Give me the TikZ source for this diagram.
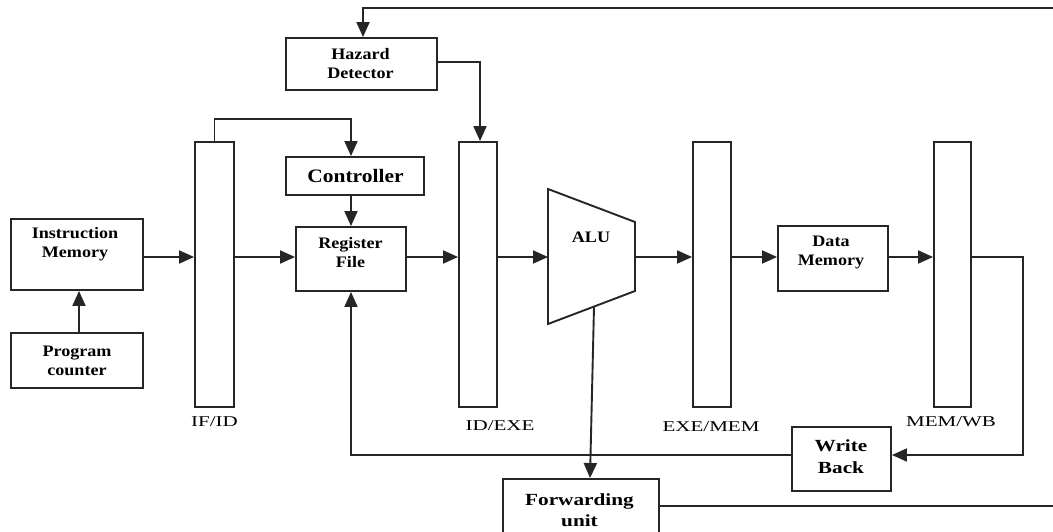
\documentclass[tikz,border=0pt]{standalone}
\usepackage{fontspec}
\setmainfont{Liberation Serif}
\usetikzlibrary{arrows.meta}
\newcommand{\xsA}[1]{\scalebox{1.13}[1]{#1}}
\newcommand{\xsB}[1]{\scalebox{1.25}[1]{#1}}
\newcommand{\xsL}[1]{\scalebox{1.4}[1]{#1}}
\begin{document}
\begin{tikzpicture}[x=1pt,y=-1pt,
  ln/.style={line width=1.9pt, draw=black!85},
  arr/.style={ln, -{Triangle[length=15pt,width=13pt]}},
  box/.style={draw=black!85, line width=1.9pt, fill=white, inner sep=0pt, rectangle},
  stxt/.style={font=\bfseries\fontsize{16}{19}\selectfont, align=center, inner sep=0pt},
  btxt/.style={font=\bfseries\fontsize{17}{21.5}\selectfont, align=center, inner sep=0pt},
  ctxt/.style={font=\bfseries\fontsize{19}{21}\selectfont, align=center, inner sep=0pt},
  lab/.style={font=\fontsize{15}{17}\selectfont, inner sep=0pt}]
\useasboundingbox (0,0) rectangle (1053,532);
\fill[white] (0,0) rectangle (1053,532);

% reference coordinates
\coordinate (rowy) at (0,257);
\coordinate (topR) at (1053,8);
\coordinate (wbx) at (1023,0);
\coordinate (rightx) at (1053,0);
\coordinate (fuy) at (0,506);

% boxes
\node[box, minimum width=132pt, minimum height=71pt] (im) at (77,254.5) {};
\node[box, minimum width=132pt, minimum height=55pt] (pc) at (77,360.5) {};
\node[box, minimum width=39pt, minimum height=265pt] (ifid) at (214.5,274.5) {};
\node[box, minimum width=151pt, minimum height=52pt] (hz) at (361.5,64) {};
\node[box, minimum width=138pt, minimum height=38pt] (ctrl) at (355,176) {};
\node[box, minimum width=110pt, minimum height=64pt] (rf) at (351,259) {};
\node[box, minimum width=38pt, minimum height=265pt] (idexe) at (478,274.5) {};
\node[box, minimum width=38pt, minimum height=265pt] (exmem) at (712,274.5) {};
\node[box, minimum width=110pt, minimum height=65pt] (dm) at (833,258.5) {};
\node[box, minimum width=37pt, minimum height=265pt] (memwb) at (952.5,274.5) {};
\node[box, minimum width=99pt, minimum height=64pt] (wb) at (841.5,459) {};
\node[box, minimum width=156pt, minimum height=70pt] (fu) at (581,514) {};

% ALU trapezoid
\draw[ln, fill=white, line join=miter] (548,189) -- (635,222) -- (635,291) -- (548,324) -- cycle;
\coordinate (aluL) at (548,257);
\coordinate (aluR) at (635,257);
\coordinate (aluB) at (594,307);

% texts
\node[stxt] (imt) at (75,244) {\xsA{Instruction}\\\xsA{Memory}};
\node[stxt] (pct) at (77,360.5) {\xsA{Program}\\\xsA{counter}};
\node[stxt] (hzt) at (360.5,63.5) {\xsA{Hazard}\\\xsA{Detector}};
\node[ctxt] (ctrlt) at (355.5,176) {\xsA{Controller}};
\node[stxt] (rft) at (350.5,252.5) {\xsA{Register}\\\xsA{File}};
\node[stxt] (alut) at (591,237) {\xsA{ALU}};
\node[stxt] (dmt) at (831,252.5) {\xsA{Data}\\\xsA{Memory}};
\node[btxt] (wbt) at (841,456.5) {\xsB{Write}\\\xsB{Back}};
\node[btxt] (fut) at (579.5,510) {\xsB{Forwarding}\\\xsB{unit}};

% labels
\node[lab] (l1) at (214.5,422) {\xsL{IF/ID}};
\node[lab] (l2) at (500,426) {\xsL{ID/EXE}};
\node[lab] (l3) at (711,427) {\xsL{EXE/MEM}};
\node[lab] (l4) at (951,422) {\xsL{MEM/WB}};

% connectors
\draw[arr] ([xshift=2pt]pc.north) -- ([xshift=2pt]im.south);
\draw[arr] (im.east |- rowy) -- (ifid.west |- rowy);
\draw[arr] (ifid.east |- rowy) -- (rf.west |- rowy);
\draw[arr] (ifid.north) -- ++(0,-22) -| (ctrl.north -| rf.north);
\draw[arr] (ctrl.south -| rf.north) -- (rf.north);
\draw[arr] (rf.east |- rowy) -- (idexe.west |- rowy);
\draw[arr] (idexe.east |- rowy) -- (aluL);
\draw[arr] (aluR) -- (exmem.west |- rowy);
\draw[arr] (exmem.east |- rowy) -- (dm.west |- rowy);
\draw[arr] (dm.east |- rowy) -- (memwb.west |- rowy);
\draw[arr] (memwb.east |- rowy) -- (wbx |- rowy) |- ([yshift=4pt]wb.east);
\draw[arr] ([yshift=4pt]wb.west) -| (rf.south);
\draw[arr] (topR) -| ([xshift=1.5pt]hz.north);
\draw[arr] ([yshift=2pt]hz.east) -| ([xshift=2pt]idexe.north);
\draw[arr] (aluB) -- ([xshift=9pt]fu.north);
\draw[ln] (fu.east |- fuy) -- (rightx |- fuy);
\end{tikzpicture}
\end{document}
